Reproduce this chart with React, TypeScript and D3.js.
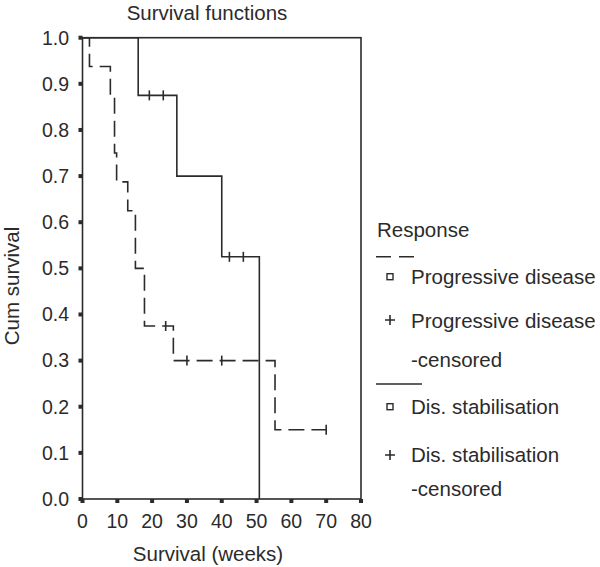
import React from "react";
import * as d3 from "d3";

// Progressive disease (dashed): event times and survival after each event
const pdTimes = [0, 2, 8, 9.2, 9.8, 13, 15.2, 17.8, 26.1, 55.3, 70];
const pdSurv = [1.0, 0.9375, 0.875, 0.75, 0.6875, 0.625, 0.5, 0.375, 0.3, 0.15, 0.15];
const pdCensorTimes = [23.9, 30, 40, 70];
const pdCensorSurv = [0.375, 0.3, 0.3, 0.15];

// Disease stabilisation (solid)
const dsTimes = [0, 16, 27.1, 40, 50.8];
const dsSurv = [1.0, 0.875, 0.7, 0.525, 0.0];
const dsCensorTimes = [19.2, 23.2, 42.2, 46.2];
const dsCensorSurv = [0.875, 0.875, 0.525, 0.525];

const xTicks = [0, 10, 20, 30, 40, 50, 60, 70, 80];
const yTicks = [0, 0.1, 0.2, 0.3, 0.4, 0.5, 0.6, 0.7, 0.8, 0.9, 1.0];

const FONT = "'Liberation Sans', Arial, Helvetica, sans-serif";
const INK = "#2b2b2b";

export default function App() {
  const W = 600, H = 567;
  const x = d3.scaleLinear().domain([0, 80]).range([82.5, 361]);
  const y = d3.scaleLinear().domain([0, 1]).range([499, 37.7]);

  const stepLine = d3
    .line<[number, number]>()
    .x((d) => x(d[0]))
    .y((d) => y(d[1]))
    .curve(d3.curveStepAfter);

  const pdPts: [number, number][] = pdTimes.map((t, i) => [t, pdSurv[i]]);
  const dsPts: [number, number][] = dsTimes.map((t, i) => [t, dsSurv[i]]);

  const tickHalf = 5;

  return (
    <svg
      width={W}
      height={H}
      style={{ position: "absolute", left: 0, top: 0, background: "#fff" }}
      fontFamily={FONT}
    >
      <rect width={W} height={H} fill="#fff" />
      {/* Title */}
      <text x={207} y={20} fontSize={20.5} textAnchor="middle" fill={INK}>
        Survival functions
      </text>

      {/* Curves */}
      <path d={stepLine(pdPts) || ""} fill="none" stroke={INK} strokeWidth={1.6} strokeDasharray="16,7" />
      <path d={stepLine(dsPts) || ""} fill="none" stroke={INK} strokeWidth={1.6} />

      {/* Censor marks */}
      {pdCensorTimes.map((t, i) => (
        <line key={"pc" + i} x1={x(t)} x2={x(t)} y1={y(pdCensorSurv[i]) - tickHalf} y2={y(pdCensorSurv[i]) + tickHalf} stroke={INK} strokeWidth={1.6} />
      ))}
      {dsCensorTimes.map((t, i) => (
        <line key={"dc" + i} x1={x(t)} x2={x(t)} y1={y(dsCensorSurv[i]) - tickHalf} y2={y(dsCensorSurv[i]) + tickHalf} stroke={INK} strokeWidth={1.6} />
      ))}

      {/* Frame */}
      <rect x={x(0)} y={y(1)} width={x(80) - x(0)} height={y(0) - y(1)} fill="none" stroke={INK} strokeWidth={1.6} />

      {/* Y ticks */}
      {yTicks.map((v) => (
        <g key={"y" + v}>
          <rect x={x(0) - 4} y={y(v) - 2} width={4} height={4} fill={INK} />
          <text x={69} y={y(v) + 6.8} fontSize={19.5} textAnchor="end" fill={INK}>
            {v.toFixed(1)}
          </text>
        </g>
      ))}
      {/* X ticks */}
      {xTicks.map((v) => (
        <g key={"x" + v}>
          <rect x={x(v) - 2} y={y(0)} width={4} height={4} fill={INK} />
          <text x={x(v)} y={528} fontSize={19.5} textAnchor="middle" fill={INK}>
            {v}
          </text>
        </g>
      ))}

      {/* Axis titles */}
      <text x={208} y={561} fontSize={20.5} textAnchor="middle" fill={INK}>
        Survival (weeks)
      </text>
      <text transform="translate(19,286) rotate(-90)" fontSize={20.5} textAnchor="middle" fill={INK}>
        Cum survival
      </text>

      {/* Legend */}
      <g>
        <text x={377} y={237} fontSize={20.5} fill={INK}>Response</text>
        <line x1={376} x2={417} y1={256.7} y2={256.7} stroke={INK} strokeWidth={1.6} strokeDasharray="15,8" />
        <rect x={387} y={273.7} width={6} height={6} fill="none" stroke={INK} strokeWidth={1.4} />
        <text x={411} y={283.5} fontSize={20.5} fill={INK}>Progressive disease</text>
        <path d="M385,320 h10 M390,315 v10" stroke={INK} strokeWidth={1.6} />
        <text x={411} y={327.5} fontSize={20.5} fill={INK}>Progressive disease</text>
        <text x={411} y={367} fontSize={20.5} fill={INK}>-censored</text>
        <line x1={376} x2={422} y1={384} y2={384} stroke={INK} strokeWidth={1.6} />
        <rect x={387} y={403.7} width={6} height={6} fill="none" stroke={INK} strokeWidth={1.4} />
        <text x={411} y={414} fontSize={20.5} fill={INK}>Dis. stabilisation</text>
        <path d="M385,455 h10 M390,450 v10" stroke={INK} strokeWidth={1.6} />
        <text x={411} y={462} fontSize={20.5} fill={INK}>Dis. stabilisation</text>
        <text x={411} y={495.5} fontSize={20.5} fill={INK}>-censored</text>
      </g>
    </svg>
  );
}
